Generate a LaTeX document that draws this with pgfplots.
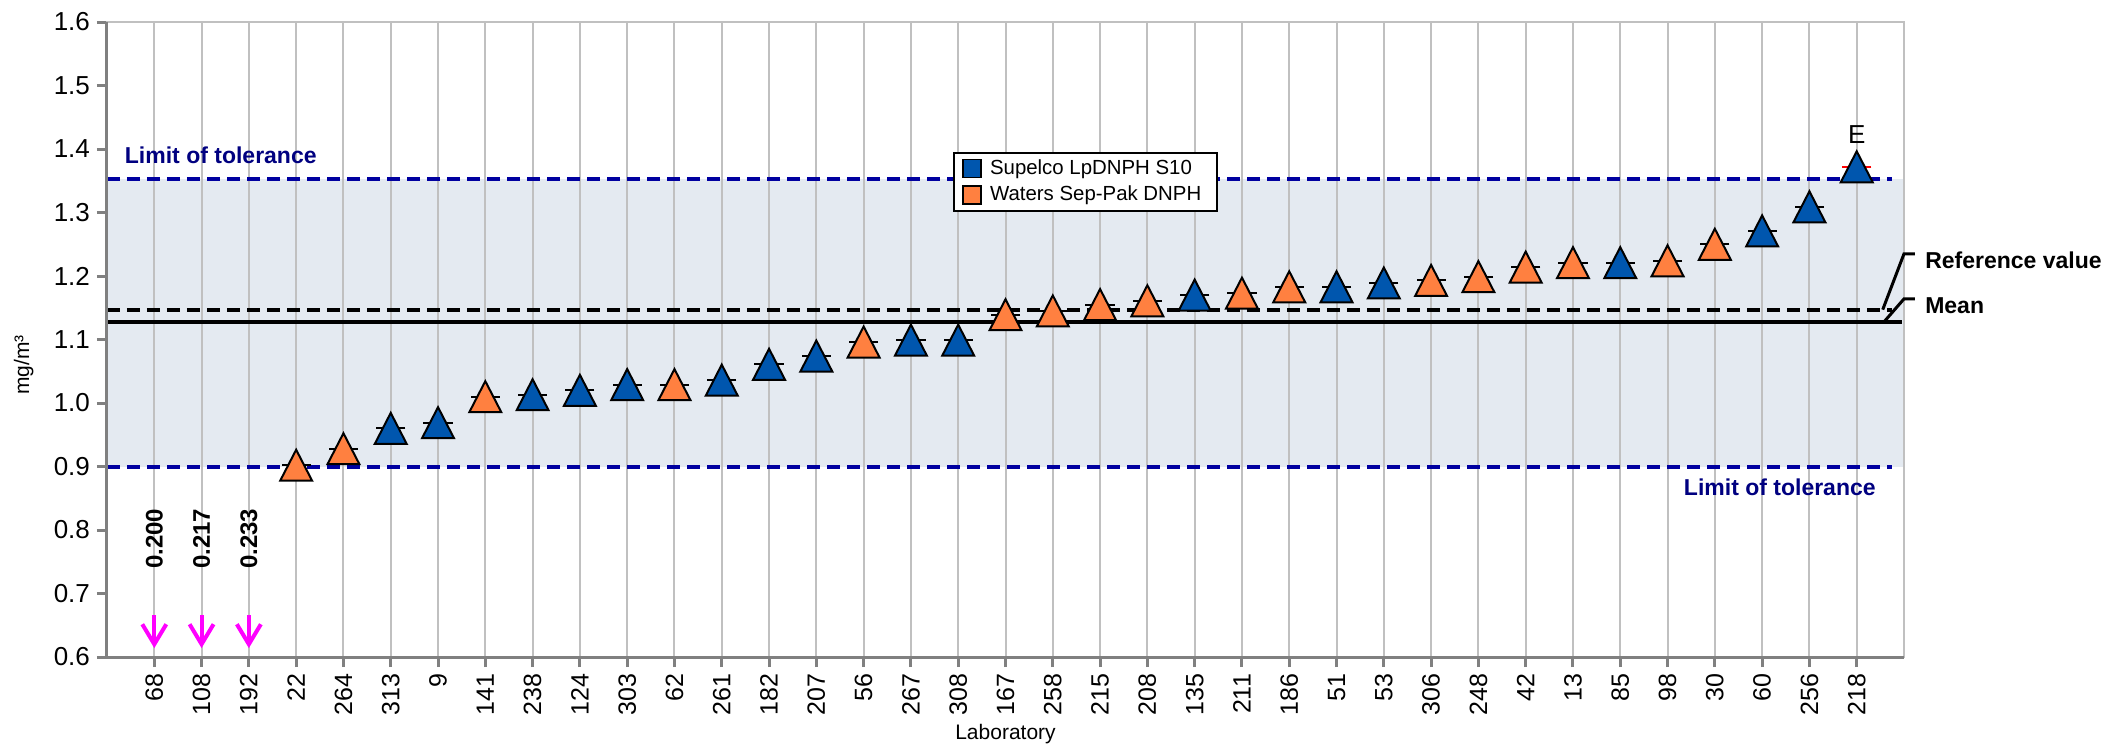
\documentclass[border=0pt]{standalone}
\usepackage{pgfplots}
\pgfplotsset{compat=1.18}
\usepackage{pgfplotstable}
\usepackage{fontspec}
\setmainfont{Liberation Sans}
\usetikzlibrary{arrows.meta}
\definecolor{cblue}{RGB}{0,86,174}
\definecolor{corange}{RGB}{255,128,64}
\definecolor{band}{RGB}{228,234,241}
\definecolor{navy}{RGB}{0,0,160}
\definecolor{navytext}{RGB}{0,0,128}
\definecolor{gridgray}{RGB}{192,192,192}
\definecolor{axgray}{RGB}{128,128,128}
\definecolor{cmag}{RGB}{255,0,255}
\pgfdeclareplotmark{mytri}{%
  \pgfpathmoveto{\pgfqpoint{0pt}{\pgfplotmarksize}}%
  \pgfpathlineto{\pgfqpoint{1.03\pgfplotmarksize}{-\pgfplotmarksize}}%
  \pgfpathlineto{\pgfqpoint{-1.03\pgfplotmarksize}{-\pgfplotmarksize}}%
  \pgfpathclose
  \pgfusepathqfillstroke}

% Supelco LpDNPH S10 (blue)
\pgfplotstableread{
x y
5 0.960
6 0.969
8 1.013
9 1.020
10 1.029
12 1.036
13 1.061
14 1.074
16 1.099
17 1.099
22 1.170
25 1.183
26 1.189
31 1.221
34 1.271
35 1.309
36 1.372
}\blue
% Waters Sep-Pak DNPH (orange)
\pgfplotstableread{
x y
3 0.902
4 0.928
7 1.010
11 1.029
15 1.096
18 1.139
19 1.145
20 1.155
21 1.161
23 1.173
24 1.183
27 1.193
28 1.199
29 1.214
30 1.221
32 1.224
33 1.250
}\orange
% values below the axis range (0.200, 0.217, 0.233)
\pgfplotstableread{
x y u v
0 0.666 0 -0.052
1 0.666 0 -0.052
2 0.666 0 -0.052
}\low

\begin{document}
\begin{tikzpicture}
\begin{axis}[
  scale only axis, width=898.5pt, height=317.5pt,
  xmin=-1, xmax=37, ymin=0.6, ymax=1.6,
  set layers, clip=false,
  xtick={0,...,36},
  xticklabels={68,108,192,22,264,313,9,141,238,124,303,62,261,182,207,56,267,308,167,258,215,208,135,211,186,51,53,306,248,42,13,85,98,30,60,256,218},
  ytick={0.6,0.7,0.8,0.9,1.0,1.1,1.2,1.3,1.4,1.5,1.6},
  xmajorgrids, grid style={gridgray, line width=1pt},
  axis line style={gridgray, line width=1pt},
  tick align=outside, xtick pos=lower, ytick pos=left,
  major tick length=5pt,
  tick style={axgray, line width=1.5pt},
  x tick label style={rotate=90, anchor=east, font=\fontsize{12.5}{15}\selectfont},
  y tick label style={font=\fontsize{13}{15}\selectfont},
  yticklabel style={/pgf/number format/.cd, fixed, fixed zerofill, precision=1},
  /pgf/number format/assume math mode=true,
  legend style={at={(axis cs:16.9,1.396)}, anchor=north west, draw=black, line width=1pt,
    font=\fontsize{10.2}{12}\selectfont, inner xsep=4pt, inner ysep=2pt, row sep=1pt,
    nodes={inner xsep=4pt, inner ysep=1.6pt}, cells={anchor=west}},
]
% tolerance band
\addplot[fill=band, draw=none, on layer=axis background, forget plot] coordinates {(-1,0.9) (37,0.9) (37,1.353) (-1,1.353)} -- cycle;
% horizontal lines
\addplot[navy, line width=2pt, dash pattern=on 6.5pt off 3.5pt, forget plot] coordinates {(-1,1.353) (36.75,1.353)};
\addplot[navy, line width=2pt, dash pattern=on 6.5pt off 3.5pt, forget plot] coordinates {(-1,0.9) (36.75,0.9)};
\addplot[black, line width=2pt, dash pattern=on 6.5pt off 3.5pt, forget plot] coordinates {(-1,1.147) (36.75,1.147)};
\addplot[black, line width=2pt, forget plot] coordinates {(-1,1.128) (36.96,1.128)};
% value dashes
\addplot[only marks, mark=-, mark size=7.3pt, mark options={black, line width=1pt}, forget plot] table[x=x,y=y] {\orange};
\addplot[only marks, mark=-, mark size=7.3pt, mark options={black, line width=1pt}, forget plot] table[x=x,y=y, restrict x to domain=0:35] {\blue};
\addplot[only marks, mark=-, mark size=7.3pt, mark options={red, line width=1pt}, forget plot] coordinates {(36,1.372)};
% triangles
\addplot[only marks, mark=mytri, mark size=7.75pt, mark options={fill=cblue, draw=black, line width=1pt}, forget plot] table[x=x,y=y] {\blue};
\addplot[only marks, mark=mytri, mark size=7.75pt, mark options={fill=corange, draw=black, line width=1pt}, forget plot] table[x=x,y=y] {\orange};
% arrows for low values
\addplot[cmag, line width=2pt, quiver={u=\thisrow{u}, v=\thisrow{v}}, -{Straight Barb[length=10pt,width=12pt]}, forget plot] table[x=x,y=y] {\low};

\addlegendimage{legend image code/.code={\draw[fill=cblue, draw=black, line width=0.8pt] (0pt,-4.5pt) rectangle (9pt,4.5pt);}}
\addlegendentry{Supelco LpDNPH S10}
\addlegendimage{legend image code/.code={\draw[fill=corange, draw=black, line width=0.8pt] (0pt,-4.5pt) rectangle (9pt,4.5pt);}}
\addlegendentry{Waters Sep-Pak DNPH}

% axis lines left and bottom
\draw[axgray, line width=1.5pt] (rel axis cs:0,1) -- (rel axis cs:0,0) -- (rel axis cs:1,0);

% annotations
\node[rotate=90, font=\bfseries\fontsize{12}{14}\selectfont] at (axis cs:0,0.786) {0.200};
\node[rotate=90, font=\bfseries\fontsize{12}{14}\selectfont] at (axis cs:1,0.786) {0.217};
\node[rotate=90, font=\bfseries\fontsize{12}{14}\selectfont] at (axis cs:2,0.786) {0.233};
\node[anchor=west, text=navytext, font=\bfseries\fontsize{11.5}{14}\selectfont] at (axis cs:-0.77,1.39) {Limit of tolerance};
\node[anchor=east, text=navytext, font=\bfseries\fontsize{11.5}{14}\selectfont] at (axis cs:36.55,0.868) {Limit of tolerance};
\node[font=\fontsize{13}{15}\selectfont] at (axis cs:36,1.423) {E};
\draw[black, line width=1.5pt] (axis cs:36.55,1.147) -- (axis cs:37,1.235) -- (axis cs:37.23,1.235);
\draw[black, line width=1.5pt] (axis cs:36.58,1.128) -- (axis cs:37,1.164) -- (axis cs:37.23,1.164);
\node[anchor=west, font=\bfseries\fontsize{11.5}{14}\selectfont] at (axis cs:37.3,1.2245) {Reference value};
\node[anchor=west, font=\bfseries\fontsize{11.5}{14}\selectfont] at (axis cs:37.3,1.153) {Mean};
\node[rotate=90, font=\fontsize{10.5}{12}\selectfont] at (axis cs:-2.76,1.06) {mg/m³};
\node[font=\fontsize{10.5}{12}\selectfont] at (axis cs:18,0.479) {Laboratory};
\end{axis}
\pgfresetboundingbox
\path (-53.5pt,-44.5pt) rectangle (997pt,328.5pt);
\end{tikzpicture}
\end{document}
